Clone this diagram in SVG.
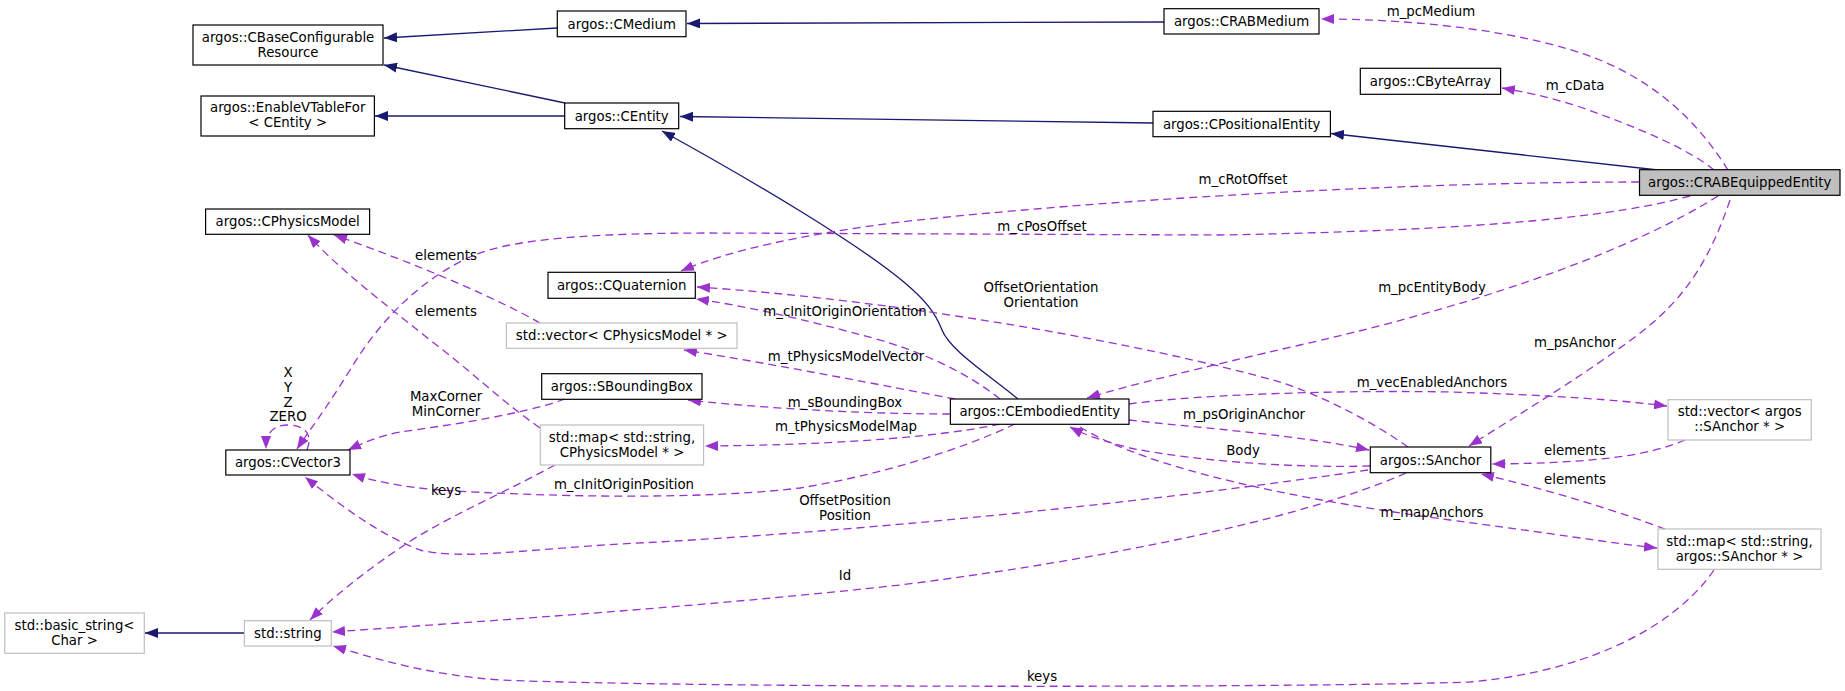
<svg xmlns="http://www.w3.org/2000/svg" width="1845" height="691" viewBox="0 0 1845 691">
<style>
text{font-family:"DejaVu Sans","Liberation Sans",sans-serif;font-size:13.3px;fill:#000;text-anchor:middle}
.n rect{fill:#fff;stroke:#000;stroke-width:1.2}
.g rect{fill:#fff;stroke:#bfbfbf;stroke-width:1.2}
.cur rect{fill:#bfbfbf;stroke:#000;stroke-width:1.2}
.inh{fill:none;stroke:#191970;stroke-width:1.3;marker-end:url(#an)}
.use{fill:none;stroke:#9a32cd;stroke-width:1.3;stroke-dasharray:8,5;marker-end:url(#ap)}
</style>
<defs>
<marker id="an" markerWidth="14" markerHeight="10" refX="13" refY="5" orient="auto" markerUnits="userSpaceOnUse"><path d="M0,0 L13,5 L0,10 z" fill="#191970"/></marker>
<marker id="ap" markerWidth="14" markerHeight="10" refX="13" refY="5" orient="auto" markerUnits="userSpaceOnUse"><path d="M0,0 L13,5 L0,10 z" fill="#9a32cd"/></marker>
</defs>
<rect width="1845" height="691" fill="#fff"/>
<g id="connectors">
<path class="inh" d="M557,28 L384,38"/>
<path class="inh" d="M565,103 L384,65"/>
<path class="inh" d="M565,116 L375,116"/>
<path class="inh" d="M1164,22 L687,23.5"/>
<path class="inh" d="M1153,123 L680,116.5"/>
<path class="inh" d="M1658,170 L1331,133.5"/>
<path class="inh" d="M1018,399 C985,372 950,350 942,330 C935,312 925,300 905,283 C860,245 760,185 662,131"/>
<path class="inh" d="M244,633 L145,633"/>

<path class="use" d="M1728,170 C1700,125 1660,85 1600,60 C1530,32 1420,19 1321,19"/>
<path class="use" d="M1714,170 C1690,150 1640,128 1580,107 C1550,97 1520,91 1502,88"/>
<path class="use" d="M1639,182 C1400,182 1100,200 900,222 C800,235 730,250 681,271"/>
<path class="use" d="M1690,196 C1620,215 1500,230 1220,235 L710,233 C600,233 510,238 470,257 C420,280 380,320 350,370 C322,415 306,435 297,449"/>
<path class="use" d="M1718,196 C1640,245 1500,300 1300,345 C1200,368 1130,385 1087,398"/>
<path class="use" d="M1730,200 C1700,290 1660,320 1610,355 C1560,390 1510,420 1469,446"/>
<path class="use" d="M1000,399 C970,375 930,355 880,340 C800,318 740,305 696,299"/>
<path class="use" d="M955,399 C880,385 780,365 684,350"/>
<path class="use" d="M950,414 C880,414 780,410 688,400"/>
<path class="use" d="M1000,424 C950,435 850,445 705,446"/>
<path class="use" d="M1015,424 C960,450 880,475 800,488 C700,500 550,497 440,490 C400,487 370,480 352,474"/>
<path class="use" d="M1129,404 C1200,394 1350,390 1450,392 C1550,395 1620,400 1667,406"/>
<path class="use" d="M1129,420 C1200,428 1300,435 1369,450"/>
<path class="use" d="M1370,466 C1300,468 1200,462 1130,448 C1100,440 1085,435 1070,427"/>
<path class="use" d="M1080,427 C1150,470 1300,500 1450,520 C1550,533 1610,543 1657,548"/>
<path class="use" d="M1408,447 C1370,420 1320,395 1280,382 C1150,345 900,300 697,287"/>
<path class="use" d="M1368,470 C1200,495 900,530 620,544 C520,550 460,560 420,550 C380,535 340,505 305,477"/>
<path class="use" d="M1406,473 C1300,520 1100,560 900,585 C700,607 500,620 332,632"/>
<path class="use" d="M1714,570 C1680,620 1600,670 1470,682 C1300,688 700,688 500,680 C430,675 380,660 333,646"/>
<path class="use" d="M555,465 C500,495 440,520 400,548 C360,575 330,600 310,620"/>
<path class="use" d="M1685,440 C1650,455 1600,463 1492,464"/>
<path class="use" d="M1665,529 C1620,512 1550,490 1481,474"/>
<path class="use" d="M565,399 C520,415 450,425 400,432 C380,436 365,442 348,450"/>
<path class="use" d="M540,323 C500,300 420,265 334,235"/>
<path class="use" d="M540,428 C500,400 470,370 430,340 C380,300 340,270 308,235"/>
<path class="use" d="M307,450 C314,432 302,425 288,425 C274,425 266,432 266,449"/>

<text x="1431" y="16">m_pcMedium</text>
<text x="1575" y="90">m_cData</text>
<text x="1243" y="184">m_cRotOffset</text>
<text x="1042" y="231">m_cPosOffset</text>
<text x="446" y="260">elements</text>
<text x="446" y="316">elements</text>
<text x="1432" y="292">m_pcEntityBody</text>
<text x="1041" y="292">OffsetOrientation</text>
<text x="1041" y="307">Orientation</text>
<text x="845" y="316">m_cInitOriginOrientation</text>
<text x="1575" y="347">m_psAnchor</text>
<text x="846" y="361">m_tPhysicsModelVector</text>
<text x="288" y="377">X</text>
<text x="288" y="392">Y</text>
<text x="288" y="407">Z</text>
<text x="288" y="421">ZERO</text>
<text x="1432" y="387">m_vecEnabledAnchors</text>
<text x="446" y="401">MaxCorner</text>
<text x="446" y="416">MinCorner</text>
<text x="845" y="407">m_sBoundingBox</text>
<text x="1244" y="419">m_psOriginAnchor</text>
<text x="846" y="431">m_tPhysicsModelMap</text>
<text x="1243" y="455">Body</text>
<text x="1575" y="455">elements</text>
<text x="1575" y="484">elements</text>
<text x="624" y="489">m_cInitOriginPosition</text>
<text x="446" y="495">keys</text>
<text x="845" y="505">OffsetPosition</text>
<text x="845" y="520">Position</text>
<text x="1432" y="517">m_mapAnchors</text>
<text x="845" y="580">Id</text>
<text x="1042" y="681">keys</text>
</g>
<g id="CBaseConfigurableResource" class="n"><rect x="193" y="25" width="190" height="40"/><text x="288" y="41.5">argos::CBaseConfigurable</text><text x="288" y="56.5">Resource</text></g>
<g id="EnableVTableFor" class="n"><rect x="201" y="96" width="173.4" height="40"/><text x="287.7" y="112">argos::EnableVTableFor</text><text x="287.7" y="127">&lt; CEntity &gt;</text></g>
<g id="CPhysicsModel" class="n"><rect x="205.6" y="209" width="164" height="25.3"/><text x="287.7" y="226.3">argos::CPhysicsModel</text></g>
<g id="CMedium" class="n"><rect x="557.3" y="11" width="128.7" height="25.7"/><text x="621.7" y="28.5">argos::CMedium</text></g>
<g id="CEntity" class="n"><rect x="564.7" y="103" width="114" height="25.7"/><text x="621.7" y="120.5">argos::CEntity</text></g>
<g id="CRABMedium" class="n"><rect x="1164" y="8.7" width="155" height="25.3"/><text x="1241.5" y="26">argos::CRABMedium</text></g>
<g id="CPositionalEntity" class="n"><rect x="1153" y="111.3" width="177.4" height="25.4"/><text x="1241.7" y="128.7">argos::CPositionalEntity</text></g>
<g id="CByteArray" class="n"><rect x="1360.3" y="68.3" width="140.3" height="26"/><text x="1430.5" y="86">argos::CByteArray</text></g>
<g id="CRABEquippedEntity" class="cur"><rect x="1639.5" y="169.7" width="200.5" height="25.6"/><text x="1739.7" y="187.2">argos::CRABEquippedEntity</text></g>
<g id="CQuaternion" class="n"><rect x="548" y="272.3" width="147.3" height="26"/><text x="621.7" y="290">argos::CQuaternion</text></g>
<g id="VectorCPhysicsModel" class="g"><rect x="506.4" y="323" width="230.6" height="25.3"/><text x="621.7" y="340.3">std::vector&lt; CPhysicsModel * &gt;</text></g>
<g id="SBoundingBox" class="n"><rect x="541.7" y="373.7" width="160.3" height="25.6"/><text x="621.9" y="391.2">argos::SBoundingBox</text></g>
<g id="MapCPhysicsModel" class="g"><rect x="540.3" y="425" width="163.3" height="40"/><text x="622" y="441.5">std::map&lt; std::string,</text><text x="622" y="456.5">CPhysicsModel * &gt;</text></g>
<g id="CVector3" class="n"><rect x="225.8" y="450" width="124.2" height="25"/><text x="287.9" y="467.2">argos::CVector3</text></g>
<g id="CEmbodiedEntity" class="n"><rect x="950.4" y="399" width="178.6" height="25.3"/><text x="1039.7" y="416.3">argos::CEmbodiedEntity</text></g>
<g id="SAnchor" class="n"><rect x="1370.3" y="447" width="120.5" height="25.7"/><text x="1430.5" y="464.5">argos::SAnchor</text></g>
<g id="VectorSAnchor" class="g"><rect x="1668" y="399.7" width="143.3" height="40.3"/><text x="1739.7" y="416">std::vector&lt; argos</text><text x="1739.7" y="431">::SAnchor * &gt;</text></g>
<g id="MapSAnchor" class="g"><rect x="1658" y="529" width="163" height="40.3"/><text x="1739.5" y="545.5">std::map&lt; std::string,</text><text x="1739.5" y="560.5">argos::SAnchor * &gt;</text></g>
<g id="BasicString" class="g"><rect x="4.7" y="613" width="139.6" height="40.3"/><text x="74.5" y="629.5">std::basic_string&lt;</text><text x="74.5" y="644.5">Char &gt;</text></g>
<g id="StdString" class="g"><rect x="244.4" y="620.7" width="86.9" height="25.3"/><text x="287.9" y="637.7">std::string</text></g>
</svg>
